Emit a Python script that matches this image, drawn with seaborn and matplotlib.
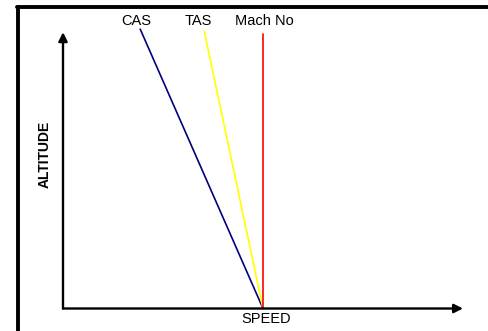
import pandas as pd
import seaborn as sns
import matplotlib.pyplot as plt
from matplotlib.lines import Line2D

# Speed / altitude schematic (arbitrary units, 0-100 on each axis)
series = ['CAS', 'TAS', 'Mach No']
speed_low = [50, 50, 50]
speed_high = [19.3, 35.3, 50]
alt_low = [0, 0, 0]
alt_high = [99.6, 98.9, 97.9]
colors = ['#000080', '#FFFF00', '#FF0000']
label_x = [18.3, 33.8, 50.3]

rows = []
for s, x0, x1, y0, y1 in zip(series, speed_low, speed_high, alt_low, alt_high):
    rows.append({'series': s, 'speed': x0, 'altitude': y0})
    rows.append({'series': s, 'speed': x1, 'altitude': y1})
df = pd.DataFrame(rows)

sns.set_style('white')
plt.rcParams['font.family'] = ['Liberation Sans', 'DejaVu Sans']
plt.rcParams['text.color'] = 'black'
plt.rcParams['axes.labelcolor'] = 'black'

fig = plt.figure(figsize=(4.89, 3.31), dpi=100)
W, H = 489, 331
ax = fig.add_axes([63 / W, (H - 308.5) / H, 400 / W, 280.5 / H])

sns.lineplot(data=df, x='speed', y='altitude', hue='series', hue_order=series,
             palette=colors, estimator=None, sort=False, legend=False,
             linewidth=1.2, ax=ax)

ax.set_xlim(0, 100)
ax.set_ylim(0, 100)
for sp in ax.spines.values():
    sp.set_visible(False)
ax.set_xticks([])
ax.set_yticks([])

# axis arrows
arrow = dict(arrowstyle='-|>', color='black', lw=1.7, mutation_scale=13,
             shrinkA=0, shrinkB=0)
ax.annotate('', xy=(1.0, 0), xytext=(0, 0), xycoords='axes fraction',
            arrowprops=arrow, annotation_clip=False)
ax.annotate('', xy=(0, 0.985), xytext=(0, 0), xycoords='axes fraction',
            arrowprops=arrow, annotation_clip=False)

# series labels
for s, lx in zip(series, label_x):
    ax.text(lx, 102.5, s, ha='center', va='center', fontsize=10.5,
            color='black', clip_on=False)

ax.set_xlabel('SPEED', fontsize=10.5, color='black')
ax.xaxis.set_label_coords(0.5075, -0.014)
ax.set_ylabel('ALTITUDE', fontsize=10, fontweight='bold', color='black')
ax.yaxis.set_label_coords(-0.028, 0.551)

# outer frame (left and top edges)
fig.add_artist(Line2D([18.5 / W, 18.5 / W], [0, (H - 6.5) / H], color='black',
                      lw=2.8, transform=fig.transFigure))
fig.add_artist(Line2D([17 / W, 1], [(H - 6.5) / H, (H - 6.5) / H],
                      color='black', lw=2.8, transform=fig.transFigure))

fig.savefig('out.png', dpi=100)
